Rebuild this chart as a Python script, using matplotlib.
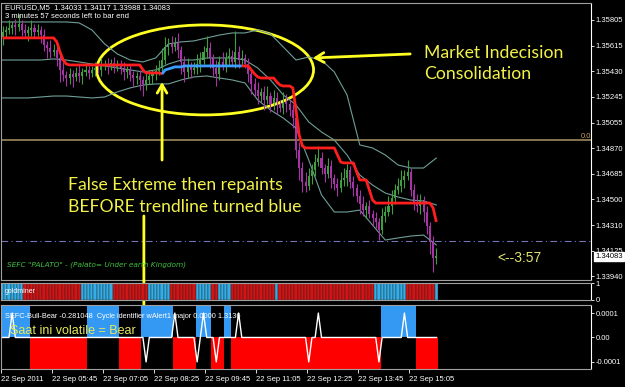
import matplotlib
matplotlib.use("Agg")
import matplotlib.pyplot as plt
from matplotlib.patches import Ellipse
import numpy as np

# EURUSD M5 closes, one per bar
closes = [
    1.35716, 1.35731, 1.35745, 1.35767, 1.35753, 1.35775, 1.35731, 1.35709, 1.35731, 1.35745,
    1.35716, 1.35731, 1.35694, 1.35622, 1.35600, 1.35571, 1.35585, 1.35527, 1.35440, 1.35403,
    1.35381, 1.35411, 1.35389, 1.35418, 1.35396, 1.35425, 1.35440, 1.35418, 1.35440, 1.35454,
    1.35440, 1.35469, 1.35483, 1.35469, 1.35491, 1.35462, 1.35483, 1.35454, 1.35425, 1.35440,
    1.35403, 1.35381, 1.35396, 1.35367, 1.35338, 1.35367, 1.35396, 1.35411, 1.35432, 1.35454,
    1.35512, 1.35607, 1.35629, 1.35607, 1.35636, 1.35585, 1.35498, 1.35425, 1.35469, 1.35440,
    1.35454, 1.35483, 1.35512, 1.35571, 1.35600, 1.35527, 1.35454, 1.35411, 1.35498, 1.35469,
    1.35527, 1.35542, 1.35498, 1.35571, 1.35512, 1.35527, 1.35483, 1.35411, 1.35338, 1.35294,
    1.35250, 1.35280, 1.35221, 1.35250, 1.35192, 1.35236, 1.35192, 1.35163, 1.35221, 1.35192,
    1.35148, 1.35090, 1.34857, 1.34726, 1.34624, 1.34595, 1.34668, 1.34712, 1.34770, 1.34799,
    1.34726, 1.34683, 1.34741, 1.34653, 1.34610, 1.34581, 1.34639, 1.34653, 1.34712, 1.34624,
    1.34581, 1.34522, 1.34464, 1.34420, 1.34450, 1.34391, 1.34362, 1.34333, 1.34275, 1.34377,
    1.34406, 1.34450, 1.34508, 1.34566, 1.34595, 1.34639, 1.34668, 1.34697, 1.34566, 1.34479,
    1.34450, 1.34493, 1.34406, 1.34304, 1.34188, 1.34071, 1.34083,
]
first_open = 1.35680

# wick lengths above / below the body, in 1.5-pip steps
upper_wick = [
    3, 2, 4, 2, 3, 5, 2, 3, 2, 4,
    2, 3, 2, 3, 2, 4, 3, 2, 3, 4,
    2, 3, 2, 3, 4, 2, 3, 2, 2, 3,
    2, 4, 2, 3, 2, 3, 2, 2, 3, 2,
    3, 2, 2, 3, 2, 4, 3, 2, 3, 4,
    6, 5, 3, 4, 3, 5, 2, 3, 4, 2,
    3, 5, 4, 3, 6, 3, 2, 4, 3, 5,
    3, 4, 3, 10, 3, 4, 2, 3, 2, 3,
    4, 2, 3, 5, 2, 4, 3, 2, 4, 3,
    2, 3, 6, 4, 3, 5, 4, 3, 4, 6,
    3, 2, 4, 3, 2, 3, 4, 5, 3, 2,
    3, 2, 3, 4, 2, 3, 2, 3, 2, 4,
    3, 5, 4, 3, 4, 5, 3, 6, 2, 3,
    4, 3, 2, 3, 2, 3, 4,
]
lower_wick = [
    4, 3, 2, 3, 4, 2, 3, 2, 4, 3,
    3, 2, 4, 3, 5, 3, 2, 4, 6, 3,
    4, 3, 5, 2, 3, 4, 2, 3, 2, 3,
    2, 3, 2, 4, 2, 3, 2, 3, 4, 3,
    3, 4, 3, 5, 6, 3, 2, 4, 3, 2,
    3, 2, 4, 3, 2, 4, 6, 5, 3, 4,
    2, 3, 4, 2, 3, 5, 4, 6, 3, 2,
    3, 4, 2, 3, 4, 3, 2, 4, 5, 3,
    4, 3, 5, 2, 4, 3, 5, 2, 3, 4,
    3, 5, 4, 6, 5, 3, 2, 4, 3, 2,
    3, 4, 2, 5, 3, 4, 2, 3, 4, 3,
    4, 3, 5, 3, 4, 2, 4, 3, 5, 2,
    3, 2, 4, 3, 2, 3, 4, 2, 3, 4,
    3, 4, 5, 4, 6, 7, 3,
]
WICK_STEP = 0.00015

# stepped trend line (red / blue)
trend = [
    1.35673, 1.35673, 1.35673, 1.35673, 1.35673, 1.35673, 1.35673, 1.35673, 1.35673, 1.35673,
    1.35673, 1.35673, 1.35673, 1.35673, 1.35673, 1.35673, 1.35673, 1.35644, 1.35571, 1.35512,
    1.35483, 1.35476, 1.35476, 1.35476, 1.35476, 1.35476, 1.35476, 1.35476, 1.35476, 1.35476,
    1.35476, 1.35476, 1.35476, 1.35476, 1.35476, 1.35476, 1.35476, 1.35476, 1.35476, 1.35476,
    1.35476, 1.35476, 1.35476, 1.35476, 1.35440, 1.35418, 1.35418, 1.35418, 1.35418, 1.35418,
    1.35411, 1.35440, 1.35447, 1.35454, 1.35462, 1.35462, 1.35462, 1.35469, 1.35469, 1.35469,
    1.35469, 1.35469, 1.35469, 1.35469, 1.35469, 1.35469, 1.35469, 1.35469, 1.35469, 1.35469,
    1.35469, 1.35469, 1.35469, 1.35469, 1.35469, 1.35469, 1.35469, 1.35469, 1.35440, 1.35411,
    1.35389, 1.35381, 1.35381, 1.35381, 1.35381, 1.35381, 1.35352, 1.35330, 1.35323, 1.35323,
    1.35323, 1.35309, 1.35148, 1.34966, 1.34886, 1.34872, 1.34872, 1.34872, 1.34872, 1.34872,
    1.34872, 1.34872, 1.34872, 1.34872, 1.34872, 1.34821, 1.34770, 1.34763, 1.34763, 1.34763,
    1.34763, 1.34697, 1.34639, 1.34639, 1.34639, 1.34566, 1.34493, 1.34471, 1.34471, 1.34471,
    1.34471, 1.34471, 1.34471, 1.34471, 1.34471, 1.34471, 1.34471, 1.34471, 1.34471, 1.34471,
    1.34471, 1.34471, 1.34471, 1.34471, 1.34471, 1.34435, 1.34333,
]
trend_segments = [("#ff1e1e", 0, 50), ("#3d9eff", 50, 75), ("#ff1e1e", 75, 136)]

# bollinger bands, read every 4th bar
band_bars = list(range(0, 137, 4))
band_upper = [
    1.35789, 1.35789, 1.35789, 1.35789, 1.35789, 1.35789, 1.35782, 1.35731, 1.35629, 1.35556,
    1.35512, 1.35498, 1.35527, 1.35629, 1.35644, 1.35651, 1.35673, 1.35694, 1.35709, 1.35709,
    1.35731, 1.35702, 1.35607, 1.35512, 1.35534, 1.35512, 1.35425, 1.35258, 1.34894, 1.34872,
    1.34821, 1.34748, 1.34726, 1.34726, 1.34799,
]
band_mid = [
    1.35512, 1.35512, 1.35512, 1.35512, 1.35520, 1.35512, 1.35498, 1.35483, 1.35469, 1.35454,
    1.35440, 1.35425, 1.35440, 1.35483, 1.35512, 1.35512, 1.35527, 1.35527, 1.35527, 1.35512,
    1.35454, 1.35367, 1.35258, 1.35185, 1.35061, 1.34988, 1.34930, 1.34821, 1.34675, 1.34602,
    1.34544, 1.34515, 1.34493, 1.34486, 1.34457,
]
band_lower = [
    1.35236, 1.35236, 1.35236, 1.35243, 1.35250, 1.35250, 1.35243, 1.35236, 1.35243, 1.35280,
    1.35309, 1.35330, 1.35338, 1.35338, 1.35367, 1.35389, 1.35396, 1.35381, 1.35367, 1.35345,
    1.35221, 1.35148, 1.35090, 1.35017, 1.34784, 1.34530, 1.34406, 1.34406, 1.34420, 1.34311,
    1.34202, 1.34217, 1.34231, 1.34238, 1.34166,
]

price_ticks = [1.35805, 1.35615, 1.35430, 1.35245, 1.35055, 1.34870,
               1.34685, 1.34500, 1.34310, 1.34125, 1.33940]
zero_level = 1.34930
dashdot_level = 1.34195
last_price = 1.34083

# goldminer histogram: (colour state, number of bars)
goldminer_runs = [("b", 7), ("r", 18), ("b", 10), ("r", 11), ("b", 7), ("r", 8),
                  ("b", 5), ("r", 2), ("b", 4), ("r", 14), ("b", 1), ("r", 30),
                  ("b", 10), ("r", 9), ("b", 1)]

# SEFC bull/bear blocks and the white cycle line spikes
sefc_runs = [("bull", 9), ("bear", 18), ("bull", 10), ("bear", 7), ("bull", 10),
             ("bear", 7), ("bull", 5), ("bear", 4), ("bull", 2), ("bear", 47),
             ("bull", 11), ("bear", 7)]
spike_up = [3, 54, 63, 74, 99, 126]
spike_down = [45, 61, 67, 96, 118]

time_bars = [0, 16, 32, 48, 64, 80, 96, 112, 128]
time_labels = ["22 Sep 2011", "22 Sep 05:45", "22 Sep 07:05", "22 Sep 08:25",
               "22 Sep 09:45", "22 Sep 11:05", "22 Sep 12:25", "22 Sep 13:45",
               "22 Sep 15:05"]

for arr in (closes, upper_wick, lower_wick, trend):
    assert len(arr) == 137, len(arr)

n = len(closes)
x = np.arange(n)
opens = [first_open] + closes[:-1]
highs = [max(o, c) + w * WICK_STEP for o, c, w in zip(opens, closes, upper_wick)]
lows = [min(o, c) - w * WICK_STEP for o, c, w in zip(opens, closes, lower_wick)]

SMALL = "Liberation Sans"
YEL_LINE = "#ffff22"
YEL_TEXT = "#f2f24a"
GRID = "#a0a0a0"

W, H = 625, 387


def box(x0, y0, x1, y1):
    return [x0 / W, 1 - y1 / H, (x1 - x0) / W, (y1 - y0) / H]


fig = plt.figure(figsize=(6.25, 3.87), dpi=100, facecolor="black")
ax = fig.add_axes(box(1, 3, 591, 280))
ax_gm = fig.add_axes(box(1, 283, 591, 300))
ax_sf = fig.add_axes(box(1, 305, 591, 369))

for a in (ax, ax_gm, ax_sf):
    a.set_facecolor("black")
    a.set_xlim(-0.5, 184.5)
    for s in a.spines.values():
        s.set_color(GRID)
        s.set_linewidth(0.8)
    a.spines["right"].set_color("white")
    a.yaxis.tick_right()
    a.tick_params(axis="y", colors="white", labelsize=5.5, length=2, width=0.6, pad=1.5)
    a.set_xticks([])

# ---- main price panel ----
ax.set_ylim(1.33911, 1.35927)

ax.axhline(zero_level, color="#9c8a5c", lw=1.2)
ax.axhline(dashdot_level, color="#7474b8", lw=0.8, ls=(0, (6, 3, 1, 3)))

ax.plot(band_bars, band_upper, color="#6f9f98", lw=0.8)
ax.plot(band_bars, band_mid, color="#6f9f98", lw=0.8)
ax.plot(band_bars, band_lower, color="#6f9f98", lw=0.8)

for i in range(n):
    col = "#3f9f3f" if closes[i] >= opens[i] else "#a634a6"
    ax.vlines(x[i], lows[i], highs[i], color=col, lw=0.8)
    body = closes[i] - opens[i]
    if abs(body) < 0.00003:
        body = 0.00003
    ax.bar(x[i], body, bottom=opens[i], width=0.65, color=col, linewidth=0)

for col, a0, a1 in trend_segments:
    ax.plot(x[a0:a1 + 1], trend[a0:a1 + 1], color=col, lw=2.0, solid_capstyle="butt")

ax.set_yticks(price_ticks)
ax.set_yticklabels([f"{p:.5f}" for p in price_ticks], family=SMALL)

ax.annotate(f"{last_price:.5f}", xy=(1.0, last_price), xycoords=("axes fraction", "data"),
            xytext=(3, 0), textcoords="offset points", ha="left", va="center",
            fontsize=5.5, family=SMALL, color="black", zorder=5,
            bbox=dict(boxstyle="square,pad=0.15", fc="white", ec="white"),
            annotation_clip=False)

ax.text(1.0, zero_level, "0.0", transform=ax.get_yaxis_transform(), ha="right",
        va="bottom", fontsize=5.5, family=SMALL, color="#c0a060")

ax.text(0.007, 0.982, "EURUSD,M5  1.34033 1.34117 1.33988 1.34083", transform=ax.transAxes,
        color="white", fontsize=5.5, family=SMALL, va="center")
ax.text(0.007, 0.953, "3 minutes 57 seconds left to bar end", transform=ax.transAxes,
        color="white", fontsize=5.5, family=SMALL, va="center")

# yellow annotations
ax.add_patch(Ellipse((63.5, 1.35440), 68, 0.00655, fill=False, ec=YEL_LINE, lw=2))
arrow = dict(arrowstyle="->,head_length=0.6,head_width=0.35", color=YEL_LINE, lw=2,
             shrinkA=0, shrinkB=0)
ax.annotate("", xy=(97.3, 1.35527), xytext=(127.8, 1.35556), arrowprops=arrow)
ax.annotate("", xy=(50.0, 1.35352), xytext=(50.0, 1.34784), arrowprops=arrow)
ax.annotate("", xy=(44.3, 0.0000184), xycoords=ax_sf.transData,
            xytext=(44.3, 1.34377), textcoords=ax.transData,
            arrowprops=arrow, annotation_clip=False)

ax.text(0.717, 0.821, "Market Indecision", transform=ax.transAxes, color=YEL_TEXT,
        fontsize=12.7, family="Lato", va="center")
ax.text(0.717, 0.742, "Consolidation", transform=ax.transAxes, color=YEL_TEXT,
        fontsize=12.7, family="Lato", va="center")
ax.text(0.1136, 0.343, "False Extreme then repaints", transform=ax.transAxes,
        color=YEL_TEXT, fontsize=12.6, family="Lato", va="center")
ax.text(0.1136, 0.2635, "BEFORE trendline turned blue", transform=ax.transAxes,
        color=YEL_TEXT, fontsize=12.6, family="Lato", va="center")
ax.text(0.01, 0.054, 'SEFC "PALATO" - (Palato= Under earth Kingdom)', transform=ax.transAxes,
        color="#3fbf3f", fontsize=5.3, style="italic", va="center")
ax.text(0.841, 0.078, "<--3:57", transform=ax.transAxes, color="#e4e470",
        fontsize=10, family=SMALL, va="center")

# ---- goldminer panel ----
ax_gm.set_ylim(0, 1)
pos = 0
for state, length in goldminer_runs:
    col = "#33aee8" if state == "b" else "#d41414"
    ax_gm.bar(x[pos:pos + length], 1, width=1.0, bottom=0, color=col,
              edgecolor="#202020", linewidth=0.3, align="center")
    pos += length
ax_gm.set_yticks([0, 1])
ax_gm.set_yticklabels(["0", "1"], family=SMALL)
ax_gm.text(0.006, 0.5, "goldminer", transform=ax_gm.transAxes, color="white",
           fontsize=5, family=SMALL, va="center")

# ---- SEFC bull/bear panel ----
ax_sf.set_ylim(-0.000129, 0.000133)
pos = 0
for state, length in sefc_runs:
    if state == "bull":
        ax_sf.bar(x[pos:pos + length], 0.000133, bottom=0, width=1.0, color="#3399f2",
                  linewidth=0)
    else:
        ax_sf.bar(x[pos:pos + length], -0.000129, bottom=0, width=1.0, color="#ff0000",
                  linewidth=0)
    pos += length

cycle = np.zeros(n)
cycle[spike_up] = 0.0001
cycle[spike_down] = -0.0001
ax_sf.plot(x, cycle, color="white", lw=1.0)

ax_sf.set_yticks([0.0001, 0.0, -0.0001])
ax_sf.set_yticklabels(["0.0001", "0.00", "-0.0001"], family=SMALL)
ax_sf.text(0.006, 0.82, "SEFC-Bull-Bear -0.281048  Cycle identifier wAlert1 major 0.0000 1.3136",
           transform=ax_sf.transAxes, color="white", fontsize=5.3, family=SMALL, va="center")
ax_sf.text(0.015, 0.6, "Saat ini volatile = Bear", transform=ax_sf.transAxes,
           color="#e8e85a", fontsize=9, family=SMALL, va="center")

ax_sf.set_xticks([b - 0.5 for b in time_bars])
ax_sf.set_xticklabels(time_labels, family=SMALL)
ax_sf.tick_params(axis="x", colors="white", labelsize=5.5, length=3, width=0.6, pad=2)
for lab in ax_sf.get_xticklabels():
    lab.set_horizontalalignment("left")

fig.savefig("out.png", dpi=100, facecolor="black")
